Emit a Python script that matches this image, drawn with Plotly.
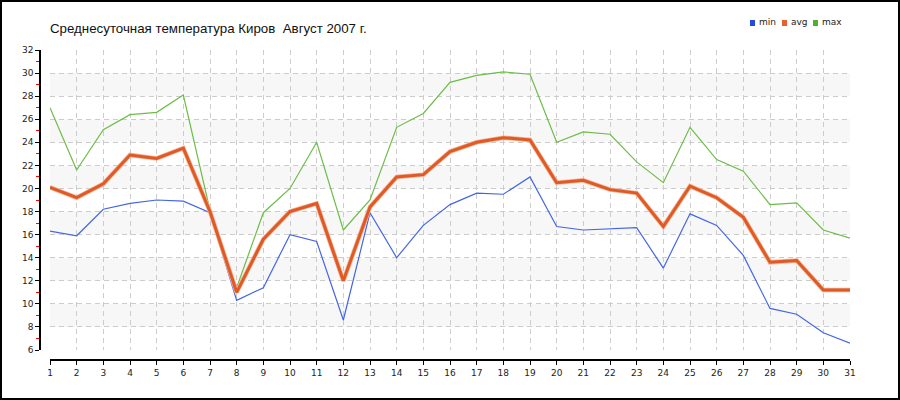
import plotly.graph_objects as go

days = list(range(1, 32))
t_min = [16.3, 15.9, 18.2, 18.7, 19.0, 18.9, 17.9, 10.3, 11.4, 16.0, 15.4, 8.6, 17.9, 14.0, 16.8, 18.6,
         19.6, 19.5, 21.0, 16.7, 16.4, 16.5, 16.6, 13.1, 17.8, 16.8, 14.2, 9.6, 9.1, 7.5, 6.6]
t_avg = [20.1, 19.2, 20.4, 22.9, 22.6, 23.5, 18.0, 11.0, 15.6, 18.0, 18.7, 12.0, 18.4, 21.0, 21.2, 23.2,
         24.0, 24.4, 24.2, 20.5, 20.7, 19.9, 19.6, 16.7, 20.2, 19.2, 17.5, 13.6, 13.75, 11.2, 11.2]
t_max = [27.0, 21.6, 25.1, 26.4, 26.6, 28.1, 18.1, 11.4, 17.9, 20.0, 24.0, 16.4, 19.0, 25.3, 26.5, 29.2,
         29.8, 30.1, 29.9, 24.0, 24.9, 24.7, 22.3, 20.5, 25.3, 22.5, 21.5, 18.6, 18.75, 16.4, 15.7]
y_ticks = list(range(6, 33, 2))
y_minor = list(range(7, 32, 2))
band_starts = [8, 12, 16, 20, 24, 28]
series_names = ["min", "avg", "max"]
series_colors = ["#2448e0", "#e8602c", "#4fb02e"]

W, H = 900, 400
fig = go.Figure()

fig.add_trace(go.Scatter(x=days, y=t_max, mode="lines", line=dict(color="#6cbd48", width=1.2),
                         showlegend=False, hoverinfo="x+y"))
fig.add_trace(go.Scatter(x=days, y=t_min, mode="lines", line=dict(color="#4466e6", width=1.2),
                         showlegend=False, hoverinfo="x+y"))
fig.add_trace(go.Scatter(x=days, y=t_avg, mode="lines", line=dict(color="#f3b394", width=4.5),
                         showlegend=False, hoverinfo="skip"))
fig.add_trace(go.Scatter(x=days, y=t_avg, mode="lines", line=dict(color="#e05a26", width=3),
                         showlegend=False, hoverinfo="x+y"))

shapes = []
for b in band_starts:
    shapes.append(dict(type="rect", xref="x", yref="y", x0=days[0], x1=days[-1], y0=b, y1=b + 2,
                       fillcolor="#f7f7f7", line=dict(width=0), layer="below"))
# outer border
shapes.append(dict(type="rect", xref="paper", yref="paper", x0=0, x1=1, y0=0, y1=1,
                   line=dict(color="black", width=4), fillcolor="rgba(0,0,0,0)"))

# custom legend
annotations = []
leg_x = [750, 782, 813]
for name, col, lx in zip(series_names, series_colors, leg_x):
    shapes.append(dict(type="rect", xref="paper", yref="paper",
                       x0=lx / W, x1=(lx + 5) / W, y0=1 - 26 / H, y1=1 - 20 / H,
                       fillcolor=col, line=dict(width=0)))
    annotations.append(dict(xref="paper", yref="paper", x=(lx + 7) / W, y=1 - 22 / H,
                            xanchor="left", yanchor="middle", text=name, showarrow=False,
                            font=dict(family="DejaVu Sans", size=9, color="#222")))

grid_dash = "5px,4px"
fig.update_layout(
    width=W, height=H,
    margin=dict(l=0, r=0, t=0, b=0, pad=0, autoexpand=False),
    paper_bgcolor="white", plot_bgcolor="white",
    title=dict(text="Среднесуточная температура Киров\u00a0 Август 2007 г.",
               x=50 / W, xanchor="left", y=1 - 28 / H, yanchor="middle", automargin=False,
               font=dict(family="Liberation Sans", size=13.3, color="#111")),
    xaxis=dict(domain=[50 / W, 850 / W], range=[1, 31], anchor="free", position=(H - 360) / H,
               automargin=False,
               tickvals=days, ticktext=[str(d) for d in days],
               showline=True, linecolor="black", linewidth=1.5,
               ticks="outside", ticklen=4, tickcolor="black",
               showgrid=True, gridcolor="#cccccc", griddash=grid_dash, gridwidth=1,
               zeroline=False, tickfont=dict(family="DejaVu Sans", size=9, color="#222")),
    yaxis=dict(domain=[50 / H, 350 / H], range=[6, 32], anchor="free", position=40 / W,
               automargin=False,
               tickvals=y_ticks, showline=True, linecolor="black", linewidth=1.5,
               ticks="outside", ticklen=4, tickcolor="black",
               minor=dict(tickvals=y_minor, ticks="outside", ticklen=3, tickcolor="red", showgrid=False),
               showgrid=True, gridcolor="#cccccc", griddash=grid_dash, gridwidth=1,
               zeroline=False, tickfont=dict(family="DejaVu Sans", size=9, color="#222")),
    shapes=shapes,
    annotations=annotations,
    showlegend=False,
)

post = ("document.documentElement.style.margin='0';document.documentElement.style.padding='0';"
        "document.documentElement.style.overflow='hidden';"
        "document.body.style.margin='0';document.body.style.padding='0';"
        "document.body.style.overflow='hidden';")
fig.write_html("out.html", config={"displayModeBar": False}, post_script=post)
